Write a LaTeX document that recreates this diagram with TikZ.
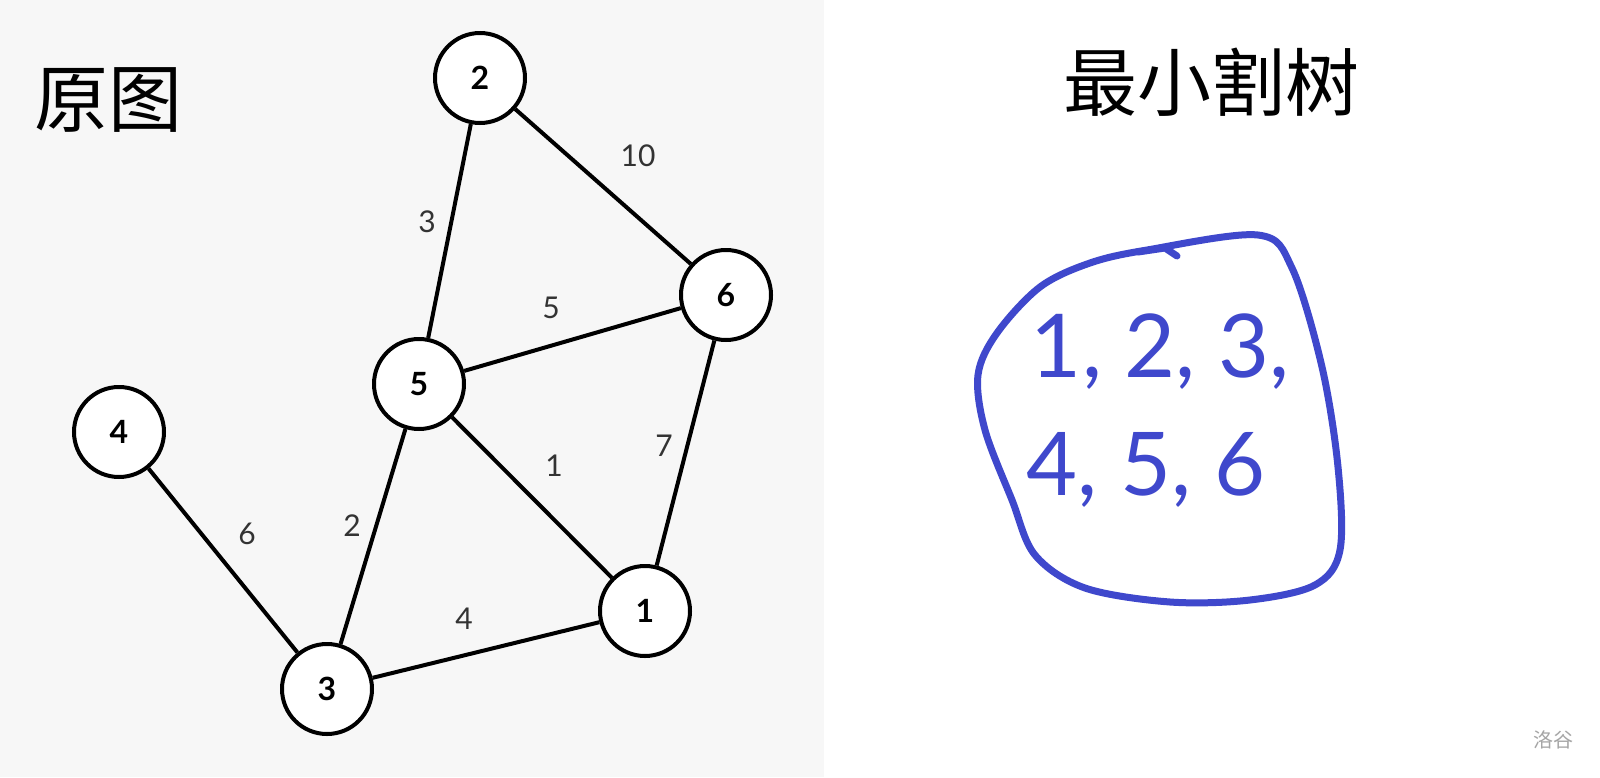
\documentclass[tikz,border=0pt]{standalone}
\usepackage{fontspec}
\setmainfont{Lato}
\newfontfamily\cjk{Noto Sans CJK SC}
\definecolor{panelgrey}{HTML}{F7F7F7}
\definecolor{penblue}{HTML}{3F48CC}
\definecolor{labelgrey}{HTML}{333333}
\tikzset{
  vertex/.style={circle,draw,line width=2pt,fill=white,minimum size=45pt,inner sep=0pt,font=\fontsize{16}{16}\selectfont\bfseries},
  wt/.style={text=labelgrey,font=\fontsize{15}{15}\selectfont},
  edge/.style={line width=2pt},
  blob/.style={draw=penblue,line width=3.5pt,line cap=round,line join=round}
}
\begin{document}
\begin{tikzpicture}[x=0.5pt,y=-0.5pt]
      \useasboundingbox (0,0) rectangle (1600,777);
      \fill[white] (0,0) rectangle (1600,777);
      \fill[panelgrey] (0,0) rectangle (824,777);
      % left: the graph
      \node[font=\cjk\fontsize{37}{37}\selectfont] (title1) at (108,100) {原图};
      \node[vertex] (v2) at (480,78) {2};
      \node[vertex] (v6) at (726,295) {6};
      \node[vertex] (v5) at (419,384) {5};
      \node[vertex] (v4) at (119,432) {4};
      \node[vertex] (v1) at (645,611) {1};
      \node[vertex] (v3) at (327,689) {3};
      \draw[edge] (v2) -- (v5);
      \draw[edge] (v2) -- (v6);
      \draw[edge] (v5) -- (v6);
      \draw[edge] (v6) -- (v1);
      \draw[edge] (v5) -- (v1);
      \draw[edge] (v5) -- (v3);
      \draw[edge] (v4) -- (v3);
      \draw[edge] (v3) -- (v1);
      \node[wt] (w26) at (638,156) {10};
      \node[wt] (w25) at (427,222) {3};
      \node[wt] (w56) at (551,308) {5};
      \node[wt] (w61) at (664,446) {7};
      \node[wt] (w51) at (554,466) {1};
      \node[wt] (w43) at (247,534) {6};
      \node[wt] (w53) at (352,526) {2};
      \node[wt] (w31) at (464,619) {4};
      % right: the cut tree
      \node[font=\cjk\fontsize{37}{37}\selectfont] (title2) at (1211,82) {最小割树};
      \draw[blob] plot[smooth cycle,tension=0.55] coordinates {(1147,250) (1258,235) (1292,268) (1322,367) (1338,467) (1340,550) (1315,585) (1250,600) (1170,602) (1085,588) (1035,555) (1012,500) (985,430) (978,375) (997,333) (1040,287) (1090,263)};
      \draw[blob] (1138,252) -- (1165,248) -- (1177,256);
      \node[text=penblue,font=\fontsize{44}{44}\selectfont] (set1) at (1160,352) {1, 2, 3,};
      \node[text=penblue,font=\fontsize{44}{44}\selectfont] (set2) at (1146,470) {4, 5, 6};
      \node[text=gray!70,font=\cjk\fontsize{10}{10}\selectfont] (mark) at (1553,740) {洛谷};
\end{tikzpicture}
\end{document}
